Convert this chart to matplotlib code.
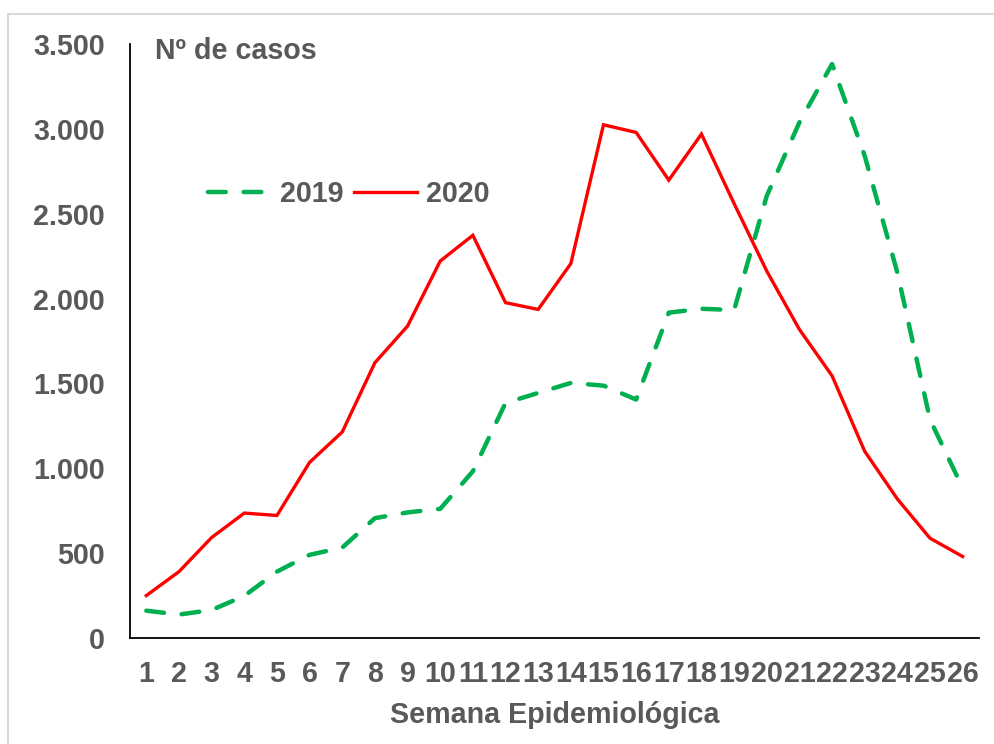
import matplotlib
matplotlib.use("Agg")
import matplotlib.pyplot as plt
from matplotlib.ticker import FuncFormatter, FixedLocator
from matplotlib.patches import Rectangle

weeks = list(range(1, 27))
week_labels = [str(w) for w in weeks]
casos_2019 = [161, 138, 165, 248, 391, 490, 533, 706, 740, 761, 982, 1385, 1444, 1503,
              1487, 1405, 1917, 1940, 1932, 2605, 3038, 3382, 2841, 2153, 1287, 884]
casos_2020 = [250, 391, 592, 736, 722, 1035, 1214, 1622, 1838, 2221, 2373, 1976, 1936, 2206,
              3024, 2979, 2698, 2969, 2560, 2162, 1818, 1545, 1100, 819, 588, 480]
y_ticks = [0, 500, 1000, 1500, 2000, 2500, 3000, 3500]

plt.rcParams['font.family'] = ['Liberation Sans', 'DejaVu Sans']
gray = '#595959'
fs = 20.6

fig = plt.figure(figsize=(9.94, 7.44), dpi=100)
W, H = 994, 744
ax = fig.add_axes([130 / W, 1 - 638 / H, (979 - 130) / W, (638 - 44) / H])

# light border around chart area
fig.patches.append(Rectangle((8 / W, -0.1), 1.2, (1 - 14 / H) + 0.1, transform=fig.transFigure,
                             fill=False, edgecolor='#d9d9d9', linewidth=1.5))

l19, = ax.plot(weeks, casos_2019, color='#00B050', linewidth=3.2, linestyle=(0, (4.0, 4.0)),
               dash_capstyle='round', solid_capstyle='round', label='2019')
l20, = ax.plot(weeks, casos_2020, color='#FF0000', linewidth=2.4, solid_joinstyle='miter',
               label='2020')

ax.set_xlim(0.5, 26.5)
ax.set_ylim(0, 3500)
ax.xaxis.set_major_locator(FixedLocator(weeks))
ax.set_xticklabels(week_labels)
ax.yaxis.set_major_locator(FixedLocator(y_ticks))
ax.yaxis.set_major_formatter(FuncFormatter(lambda v, p: f"{int(v):,}".replace(',', '.')))

for s in ['top', 'right']:
    ax.spines[s].set_visible(False)
for s in ['left', 'bottom']:
    ax.spines[s].set_color('black')
    ax.spines[s].set_linewidth(1.3)

ax.tick_params(axis='both', length=0, labelsize=fs, labelcolor=gray)
ax.tick_params(axis='y', pad=18)
ax.tick_params(axis='x', pad=16)
for lab in ax.get_xticklabels() + ax.get_yticklabels():
    lab.set_fontweight('bold')

ax.set_xlabel('Semana Epidemiológica', fontsize=fs, fontweight='bold', color=gray, labelpad=9.5)
fig.text(155 / W, 1 - 51 / H, 'Nº de casos', fontsize=fs, fontweight='bold', color=gray,
         ha='left', va='center')

leg = ax.legend(handles=[l19, l20], ncol=2, frameon=False, loc='center left',
                bbox_to_anchor=(208 / W, 1 - 194 / H), bbox_transform=fig.transFigure,
                borderaxespad=0, borderpad=0, handlelength=2.2, handletextpad=0.3,
                columnspacing=0.4, prop={'size': fs, 'weight': 'bold'})
for t in leg.get_texts():
    t.set_color(gray)

fig.savefig('out.png', dpi=100)
